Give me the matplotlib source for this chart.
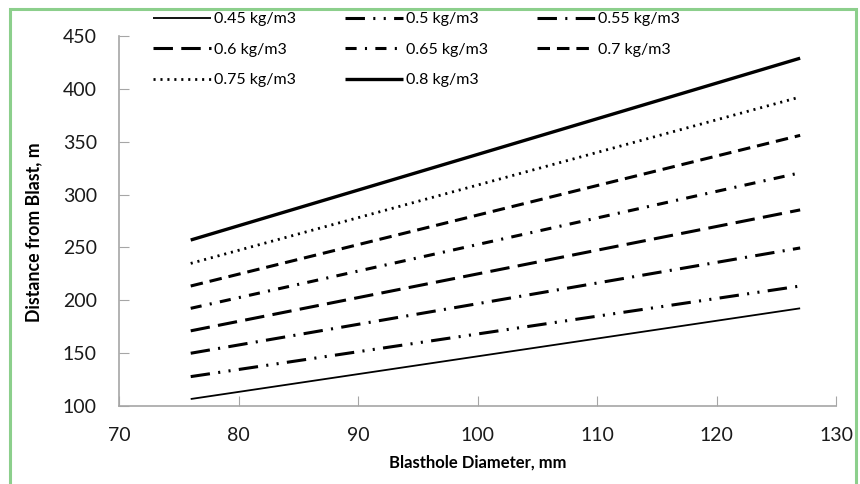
import matplotlib.pyplot as plt
from matplotlib.patches import Rectangle

plt.rcParams['font.family'] = ['Lato', 'DejaVu Sans']
plt.rcParams['lines.scale_dashes'] = False

# data
diameter = [76, 127]
labels = ['0.45 kg/m3', '0.5 kg/m3', '0.55 kg/m3', '0.6 kg/m3',
          '0.65 kg/m3', '0.7 kg/m3', '0.75 kg/m3', '0.8 kg/m3']
d045 = [106.6, 192.4]
d050 = [127.8, 213.5]
d055 = [149.9, 249.5]
d060 = [171.1, 285.5]
d065 = [192.4, 320.6]
d070 = [213.5, 356.0]
d075 = [234.9, 392.3]
d080 = [257.0, 429.0]
series = [d045, d050, d055, d060, d065, d070, d075, d080]

xticks = [70, 80, 90, 100, 110, 120, 130]
yticks = [100, 150, 200, 250, 300, 350, 400, 450]

# line styles (width, dash pattern in points, None = solid)
styles = [
    (1.3, None),
    (2.2, (0, (14, 6, 1.5, 6, 1.5, 6))),
    (2.2, (0, (14, 6, 1.5, 6))),
    (2.2, (0, (14, 6))),
    (2.2, (0, (8, 6, 1.5, 6))),
    (2.2, (0, (9, 5))),
    (2.0, (0, (1.5, 3.5))),
    (2.4, None),
]

fig = plt.figure(figsize=(8.6, 4.84), dpi=100)
ax = fig.add_axes([119 / 860, 78 / 484, 717 / 860, 370 / 484])

handles = []
for vals, lab, (lw, ls) in zip(series, labels, styles):
    if ls is None:
        h, = ax.plot(diameter, vals, color='black', lw=lw, label=lab,
                     solid_capstyle='butt')
    else:
        h, = ax.plot(diameter, vals, color='black', lw=lw, label=lab,
                     linestyle=ls, dash_capstyle='butt')
    handles.append(h)

ax.set_xlim(70, 130)
ax.set_ylim(100, 450)
ax.set_xticks(xticks)
ax.set_yticks(yticks)
ax.tick_params(direction='in', length=7, color='#a6a6a6', labelsize=14,
               labelcolor='#1a1a1a')
ax.tick_params(axis='x', pad=15)
ax.tick_params(axis='y', pad=16)
for side in ['top', 'right']:
    ax.spines[side].set_visible(False)
for side in ['left', 'bottom']:
    ax.spines[side].set_color('#a6a6a6')
    ax.spines[side].set_linewidth(1.2)

ax.set_xlabel('Blasthole Diameter, mm', fontsize=12, fontweight='bold', labelpad=8)
ax.set_ylabel('Distance from Blast, m', fontsize=12.8, fontweight='bold')
ax.yaxis.set_label_coords(-0.107, 0.47)

# legend: fill row by row in 3 columns
order = [0, 3, 6, 1, 4, 7, 2, 5]
leg = fig.legend([handles[i] for i in order], [labels[i] for i in order],
                 ncol=3, loc='upper left', bbox_to_anchor=(153 / 860, 1 - 12 / 484),
                 frameon=False, fontsize=11.5, handlelength=3.6, handletextpad=0.2,
                 columnspacing=3.1, labelspacing=1.02, borderaxespad=0, borderpad=0)

fig.patches.append(Rectangle((10 / 860, -0.05), 846 / 860, 1.05 - 9 / 484,
                             transform=fig.transFigure, fill=False,
                             edgecolor='#8ccf8c', linewidth=2.2))

fig.savefig('out.png', dpi=100)
